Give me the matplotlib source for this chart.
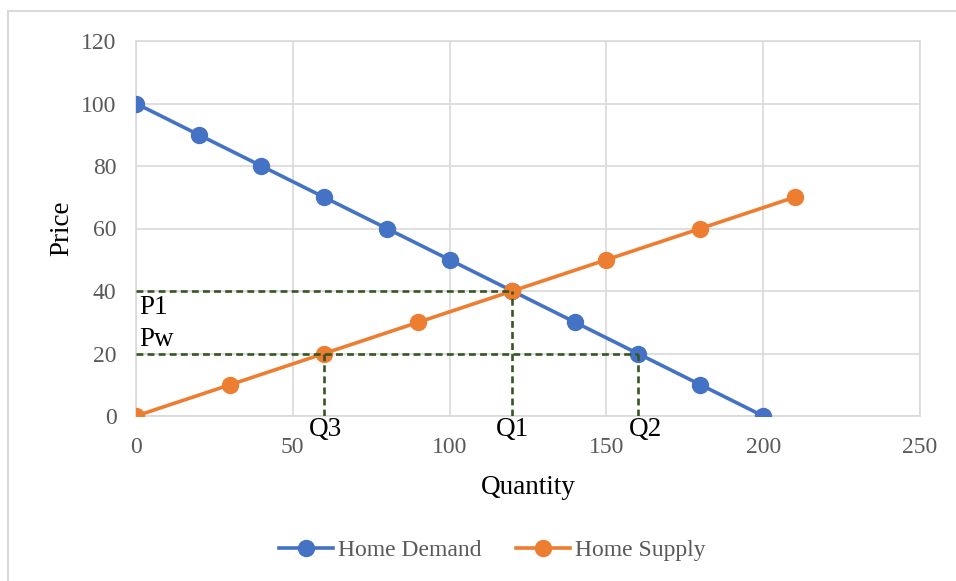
import matplotlib.pyplot as plt
from matplotlib.patches import Rectangle

plt.rcParams['font.family'] = ['Liberation Serif', 'DejaVu Serif']

demand_q = [0, 20, 40, 60, 80, 100, 120, 140, 160, 180, 200]
demand_p = [100, 90, 80, 70, 60, 50, 40, 30, 20, 10, 0]
supply_q = [0, 30, 60, 90, 120, 150, 180, 210]
supply_p = [0, 10, 20, 30, 40, 50, 60, 70]

# guide lines: (price, quantity) pairs for P1/Q1 and Pw/Q2, plus Q3 at Pw
p1, q1 = 40, 120
pw, q2, q3 = 20, 160, 60

blue = '#4472c4'
orange = '#ed7d31'
guide = '#375623'
grey = '#595959'

fig = plt.figure(figsize=(9.56, 5.81), dpi=100)
fig.patches.append(Rectangle((8 / 956, -0.1), 1.2, 1 - 11 / 581 + 0.1,
                             transform=fig.transFigure, fill=False,
                             edgecolor='#d9d9d9', linewidth=1.5))
ax = fig.add_axes([136 / 956, 165 / 581, 784 / 956, 375 / 581])

ax.plot(demand_q, demand_p, color=blue, lw=2.6, marker='o', ms=11.5,
        label='Home Demand', zorder=3)
ax.plot(supply_q, supply_p, color=orange, lw=2.6, marker='o', ms=11.5,
        label='Home Supply', zorder=3)

dash = dict(color=guide, lw=1.9, ls=(0, (2.6, 1.6)), zorder=4)
ax.plot([0, q1], [p1, p1], **dash)
ax.plot([q1, q1], [0, p1], **dash)
ax.plot([0, q2], [pw, pw], **dash)
ax.plot([q2, q2], [0, pw], **dash)
ax.plot([q3, q3], [0, pw], **dash)

lab = dict(fontsize=19.5, color='black')
ax.text(1, 34.6, 'P1', ha='left', va='center', **lab)
ax.text(1, 24.4, 'Pw', ha='left', va='center', **lab)
ax.text(q3 + 0.5, -0.3, 'Q3', ha='center', va='top', **lab)
ax.text(q1, -0.3, 'Q1', ha='center', va='top', **lab)
ax.text(q2 + 2.5, -0.3, 'Q2', ha='center', va='top', **lab)

ax.set_xlim(0, 250)
ax.set_ylim(0, 120)
ax.set_xticks(range(0, 251, 50))
ax.set_yticks(range(0, 121, 20))
ax.grid(True, color='#d9d9d9', lw=1.2)
ax.set_axisbelow(True)
for s in ax.spines.values():
    s.set_color('#d9d9d9')
    s.set_linewidth(1.2)
ax.tick_params(length=0, labelsize=17, labelcolor=grey)
ax.tick_params(axis='x', pad=15)
ax.tick_params(axis='y', pad=14)

ax.set_xlabel('Quantity', fontsize=19.5, color='black', labelpad=12)
ax.set_ylabel('Price', fontsize=19.5, color='black', labelpad=5)

leg = fig.legend(loc='center', bbox_to_anchor=(492 / 956, 1 - 550 / 581),
                 ncol=2, frameon=False, fontsize=17, handlelength=2.3,
                 handletextpad=0.2, columnspacing=1.45)
for t in leg.get_texts():
    t.set_color(grey)

fig.savefig('out.png', dpi=100)
